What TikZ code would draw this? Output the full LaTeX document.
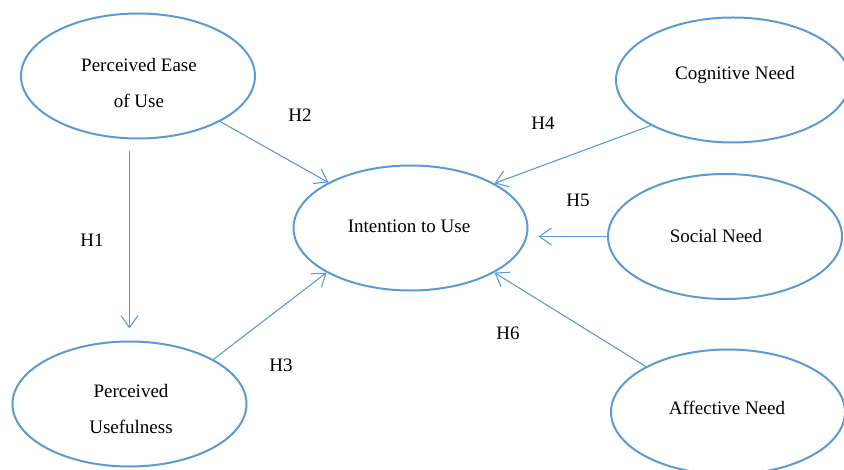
\documentclass[tikz,border=0pt]{standalone}
\usepackage{fontspec}
\setmainfont{Liberation Serif}
\usetikzlibrary{shapes.geometric,arrows.meta}
\definecolor{lblue}{RGB}{91,155,213}
\begin{document}
\begin{tikzpicture}[x=1pt,y=-1pt,
  ell/.style={ellipse,draw=lblue,line width=2pt,minimum width=234pt,minimum height=125pt,inner sep=0pt},
  txt/.style={align=center,inner sep=0pt,font=\fontsize{19}{36}\selectfont},
  arr/.style={draw=lblue,line width=1.1pt,-{Straight Barb[length=12pt,width=17pt,line width=1.1pt]}},
  hlab/.style={font=\fontsize{19}{22}\selectfont,inner sep=0pt}]
\useasboundingbox (0,0) rectangle (844,470);
\node[ell] (peou) at (138,76) {};
\node[ell] (pu) at (129.5,404) {};
\node[ell] (iu) at (410.5,228) {};
\node[ell] (cn) at (733,80) {};
\node[ell] (sn) at (725,236.5) {};
\node[ell] (an) at (728,412) {};
\node[txt] (peout) at (139,83) {Perceived Ease\\of Use};
\node[txt] (put) at (131,409) {Perceived\\Usefulness};
\node[txt] (iut) at (409,226) {Intention to Use};
\node[txt] (cnt) at (735,75) {Cognitive Need};
\node[txt] (snt) at (716,236) {Social Need};
\node[txt] (ant) at (727,408) {Affective Need};
\draw[arr,shorten <=12pt,shorten >=12pt] (peou.south -| pu.north) -- (pu.north);
\draw[arr] (peou.-29) -- (iu.151);
\draw[arr] (pu.28) -- (iu.208.5);
\draw[arr] (cn.209.5) -- (iu.28.5);
\draw[arr,shorten >=10pt] (sn.west) -- (iu.east |- sn.west);
\draw[arr] (an.151) -- (iu.-28.5);
\node[hlab] (h1) at (92,240) {H1};
\node[hlab] (h2) at (300,115) {H2};
\node[hlab] (h3) at (281,365) {H3};
\node[hlab] (h4) at (543,123) {H4};
\node[hlab] (h5) at (578,200) {H5};
\node[hlab] (h6) at (508,333) {H6};
\end{tikzpicture}
\end{document}
